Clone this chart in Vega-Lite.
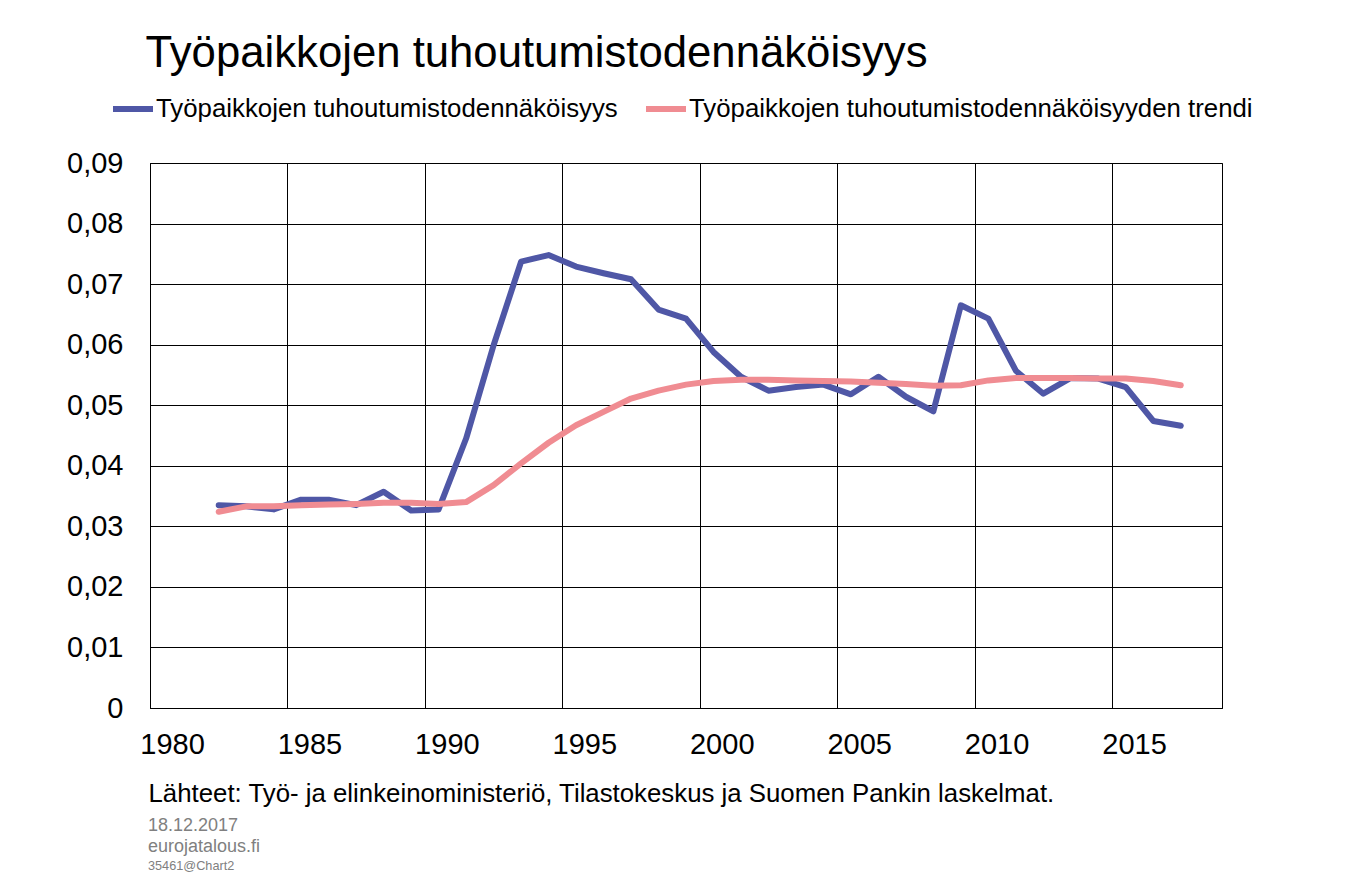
{
  "$schema": "https://vega.github.io/schema/vega-lite/v6.json",
  "width": 1072,
  "height": 545,
  "autosize": {"type": "none"},
  "padding": {"left": 150, "top": 163, "right": 126, "bottom": 173},
  "background": "white",
  "config": {
    "font": "Liberation Sans",
    "view": {"stroke": "black", "strokeWidth": 1}
  },
  "title": {
    "text": ["18.12.2017", "eurojatalous.fi"],
    "subtitle": "35461@Chart2",
    "orient": "bottom",
    "anchor": "start",
    "frame": "group",
    "font": "Liberation Sans",
    "fontSize": 18,
    "fontWeight": "normal",
    "color": "#808080",
    "lineHeight": 21,
    "subtitleFont": "Liberation Sans",
    "subtitleFontSize": 12.7,
    "subtitleColor": "#808080",
    "subtitlePadding": 4,
    "offset": 11,
    "dx": -2
  },
  "data": {
    "values": [
      {"year": 1982, "series": "Työpaikkojen tuhoutumistodennäköisyys", "value": 0.0335},
      {"year": 1983, "series": "Työpaikkojen tuhoutumistodennäköisyys", "value": 0.0333},
      {"year": 1984, "series": "Työpaikkojen tuhoutumistodennäköisyys", "value": 0.0328},
      {"year": 1985, "series": "Työpaikkojen tuhoutumistodennäköisyys", "value": 0.0344},
      {"year": 1986, "series": "Työpaikkojen tuhoutumistodennäköisyys", "value": 0.0344},
      {"year": 1987, "series": "Työpaikkojen tuhoutumistodennäköisyys", "value": 0.0335},
      {"year": 1988, "series": "Työpaikkojen tuhoutumistodennäköisyys", "value": 0.0357},
      {"year": 1989, "series": "Työpaikkojen tuhoutumistodennäköisyys", "value": 0.0326},
      {"year": 1990, "series": "Työpaikkojen tuhoutumistodennäköisyys", "value": 0.0328},
      {"year": 1991, "series": "Työpaikkojen tuhoutumistodennäköisyys", "value": 0.0445},
      {"year": 1992, "series": "Työpaikkojen tuhoutumistodennäköisyys", "value": 0.0599},
      {"year": 1993, "series": "Työpaikkojen tuhoutumistodennäköisyys", "value": 0.0737},
      {"year": 1994, "series": "Työpaikkojen tuhoutumistodennäköisyys", "value": 0.0748},
      {"year": 1995, "series": "Työpaikkojen tuhoutumistodennäköisyys", "value": 0.0729},
      {"year": 1996, "series": "Työpaikkojen tuhoutumistodennäköisyys", "value": 0.0718},
      {"year": 1997, "series": "Työpaikkojen tuhoutumistodennäköisyys", "value": 0.0708},
      {"year": 1998, "series": "Työpaikkojen tuhoutumistodennäköisyys", "value": 0.0658},
      {"year": 1999, "series": "Työpaikkojen tuhoutumistodennäköisyys", "value": 0.0643},
      {"year": 2000, "series": "Työpaikkojen tuhoutumistodennäköisyys", "value": 0.0588},
      {"year": 2001, "series": "Työpaikkojen tuhoutumistodennäköisyys", "value": 0.0547},
      {"year": 2002, "series": "Työpaikkojen tuhoutumistodennäköisyys", "value": 0.0524},
      {"year": 2003, "series": "Työpaikkojen tuhoutumistodennäköisyys", "value": 0.0530},
      {"year": 2004, "series": "Työpaikkojen tuhoutumistodennäköisyys", "value": 0.0534},
      {"year": 2005, "series": "Työpaikkojen tuhoutumistodennäköisyys", "value": 0.0518},
      {"year": 2006, "series": "Työpaikkojen tuhoutumistodennäköisyys", "value": 0.0547},
      {"year": 2007, "series": "Työpaikkojen tuhoutumistodennäköisyys", "value": 0.0514},
      {"year": 2008, "series": "Työpaikkojen tuhoutumistodennäköisyys", "value": 0.0490},
      {"year": 2009, "series": "Työpaikkojen tuhoutumistodennäköisyys", "value": 0.0665},
      {"year": 2010, "series": "Työpaikkojen tuhoutumistodennäköisyys", "value": 0.0643},
      {"year": 2011, "series": "Työpaikkojen tuhoutumistodennäköisyys", "value": 0.0557},
      {"year": 2012, "series": "Työpaikkojen tuhoutumistodennäköisyys", "value": 0.0519},
      {"year": 2013, "series": "Työpaikkojen tuhoutumistodennäköisyys", "value": 0.0545},
      {"year": 2014, "series": "Työpaikkojen tuhoutumistodennäköisyys", "value": 0.0544},
      {"year": 2015, "series": "Työpaikkojen tuhoutumistodennäköisyys", "value": 0.0530},
      {"year": 2016, "series": "Työpaikkojen tuhoutumistodennäköisyys", "value": 0.0474},
      {"year": 2017, "series": "Työpaikkojen tuhoutumistodennäköisyys", "value": 0.0466},
      {"year": 1982, "series": "Työpaikkojen tuhoutumistodennäköisyyden trendi", "value": 0.0324},
      {"year": 1983, "series": "Työpaikkojen tuhoutumistodennäköisyyden trendi", "value": 0.0333},
      {"year": 1984, "series": "Työpaikkojen tuhoutumistodennäköisyyden trendi", "value": 0.0333},
      {"year": 1985, "series": "Työpaikkojen tuhoutumistodennäköisyyden trendi", "value": 0.0335},
      {"year": 1986, "series": "Työpaikkojen tuhoutumistodennäköisyyden trendi", "value": 0.0336},
      {"year": 1987, "series": "Työpaikkojen tuhoutumistodennäköisyyden trendi", "value": 0.0337},
      {"year": 1988, "series": "Työpaikkojen tuhoutumistodennäköisyyden trendi", "value": 0.0339},
      {"year": 1989, "series": "Työpaikkojen tuhoutumistodennäköisyyden trendi", "value": 0.0339},
      {"year": 1990, "series": "Työpaikkojen tuhoutumistodennäköisyyden trendi", "value": 0.0337},
      {"year": 1991, "series": "Työpaikkojen tuhoutumistodennäköisyyden trendi", "value": 0.0340},
      {"year": 1992, "series": "Työpaikkojen tuhoutumistodennäköisyyden trendi", "value": 0.0368},
      {"year": 1993, "series": "Työpaikkojen tuhoutumistodennäköisyyden trendi", "value": 0.0404},
      {"year": 1994, "series": "Työpaikkojen tuhoutumistodennäköisyyden trendi", "value": 0.0438},
      {"year": 1995, "series": "Työpaikkojen tuhoutumistodennäköisyyden trendi", "value": 0.0467},
      {"year": 1996, "series": "Työpaikkojen tuhoutumistodennäköisyyden trendi", "value": 0.0489},
      {"year": 1997, "series": "Työpaikkojen tuhoutumistodennäköisyyden trendi", "value": 0.0511},
      {"year": 1998, "series": "Työpaikkojen tuhoutumistodennäköisyyden trendi", "value": 0.0524},
      {"year": 1999, "series": "Työpaikkojen tuhoutumistodennäköisyyden trendi", "value": 0.0534},
      {"year": 2000, "series": "Työpaikkojen tuhoutumistodennäköisyyden trendi", "value": 0.0540},
      {"year": 2001, "series": "Työpaikkojen tuhoutumistodennäköisyyden trendi", "value": 0.0542},
      {"year": 2002, "series": "Työpaikkojen tuhoutumistodennäköisyyden trendi", "value": 0.0542},
      {"year": 2003, "series": "Työpaikkojen tuhoutumistodennäköisyyden trendi", "value": 0.0541},
      {"year": 2004, "series": "Työpaikkojen tuhoutumistodennäköisyyden trendi", "value": 0.0540},
      {"year": 2005, "series": "Työpaikkojen tuhoutumistodennäköisyyden trendi", "value": 0.0539},
      {"year": 2006, "series": "Työpaikkojen tuhoutumistodennäköisyyden trendi", "value": 0.0537},
      {"year": 2007, "series": "Työpaikkojen tuhoutumistodennäköisyyden trendi", "value": 0.0535},
      {"year": 2008, "series": "Työpaikkojen tuhoutumistodennäköisyyden trendi", "value": 0.0532},
      {"year": 2009, "series": "Työpaikkojen tuhoutumistodennäköisyyden trendi", "value": 0.0533},
      {"year": 2010, "series": "Työpaikkojen tuhoutumistodennäköisyyden trendi", "value": 0.0541},
      {"year": 2011, "series": "Työpaikkojen tuhoutumistodennäköisyyden trendi", "value": 0.0545},
      {"year": 2012, "series": "Työpaikkojen tuhoutumistodennäköisyyden trendi", "value": 0.0545},
      {"year": 2013, "series": "Työpaikkojen tuhoutumistodennäköisyyden trendi", "value": 0.0545},
      {"year": 2014, "series": "Työpaikkojen tuhoutumistodennäköisyyden trendi", "value": 0.0544},
      {"year": 2015, "series": "Työpaikkojen tuhoutumistodennäköisyyden trendi", "value": 0.0544},
      {"year": 2016, "series": "Työpaikkojen tuhoutumistodennäköisyyden trendi", "value": 0.0540},
      {"year": 2017, "series": "Työpaikkojen tuhoutumistodennäköisyyden trendi", "value": 0.0533}
    ]
  },
  "mark": {"type": "line", "strokeWidth": 6, "strokeCap": "round", "strokeJoin": "round", "clip": true},
  "encoding": {
    "x": {
      "field": "year",
      "type": "quantitative",
      "scale": {"domain": [1979.5, 2018.5], "nice": false, "zero": false},
      "axis": {
        "values": [1979.5, 1984.5, 1989.5, 1994.5, 1999.5, 2004.5, 2009.5, 2014.5],
        "labelExpr": "format(datum.value + 0.5, 'd')",
        "labelOffset": 22,
        "labelFontSize": 29,
        "labelColor": "black",
        "labelFont": "Liberation Sans",
        "labelBaseline": "middle",
        "labelPadding": 36,
        "labelFlush": false,
        "labelOverlap": false,
        "ticks": false,
        "grid": true,
        "gridColor": "black",
        "gridWidth": 1,
        "gridOpacity": 1,
        "domainColor": "black",
        "domainWidth": 1,
        "title": "Lähteet: Työ- ja elinkeinoministeriö, Tilastokeskus ja Suomen Pankin laskelmat.",
        "titleFont": "Liberation Sans",
        "titleFontSize": 25.8,
        "titleFontWeight": "normal",
        "titleColor": "black",
        "titleAlign": "left",
        "titleAnchor": "start",
        "titleBaseline": "middle",
        "titleX": -2,
        "titleY": 85
      }
    },
    "y": {
      "field": "value",
      "type": "quantitative",
      "scale": {"domain": [0, 0.09], "nice": false},
      "axis": {
        "values": [0, 0.01, 0.02, 0.03, 0.04, 0.05, 0.06, 0.07, 0.08, 0.09],
        "labelExpr": "datum.value == 0 ? '0' : replace(format(datum.value, '.2f'), '.', ',')",
        "labelFontSize": 29,
        "labelColor": "black",
        "labelFont": "Liberation Sans",
        "labelPadding": 27,
        "labelOverlap": false,
        "labelFlush": false,
        "ticks": false,
        "grid": true,
        "gridColor": "black",
        "gridWidth": 1,
        "gridOpacity": 1,
        "domainColor": "black",
        "domainWidth": 1,
        "title": "Työpaikkojen tuhoutumistodennäköisyys",
        "titleFont": "Liberation Sans",
        "titleFontSize": 43.7,
        "titleFontWeight": "normal",
        "titleColor": "black",
        "titleAngle": 0,
        "titleAlign": "left",
        "titleAnchor": "start",
        "titleBaseline": "alphabetic",
        "titleX": -5,
        "titleY": -97
      }
    },
    "color": {
      "field": "series",
      "type": "nominal",
      "scale": {
        "domain": ["Työpaikkojen tuhoutumistodennäköisyys", "Työpaikkojen tuhoutumistodennäköisyyden trendi"],
        "range": ["#4F57A6", "#F08C92"]
      },
      "legend": {
        "orient": "none",
        "direction": "horizontal",
        "legendX": -40,
        "legendY": -77,
        "title": null,
        "padding": 0,
        "symbolType": "stroke",
        "symbolSize": 1600,
        "symbolStrokeWidth": 6,
        "labelFont": "Liberation Sans",
        "labelFontSize": 25.8,
        "labelColor": "black",
        "labelOffset": 0,
        "labelLimit": 0,
        "columnPadding": 16
      }
    }
  }
}
